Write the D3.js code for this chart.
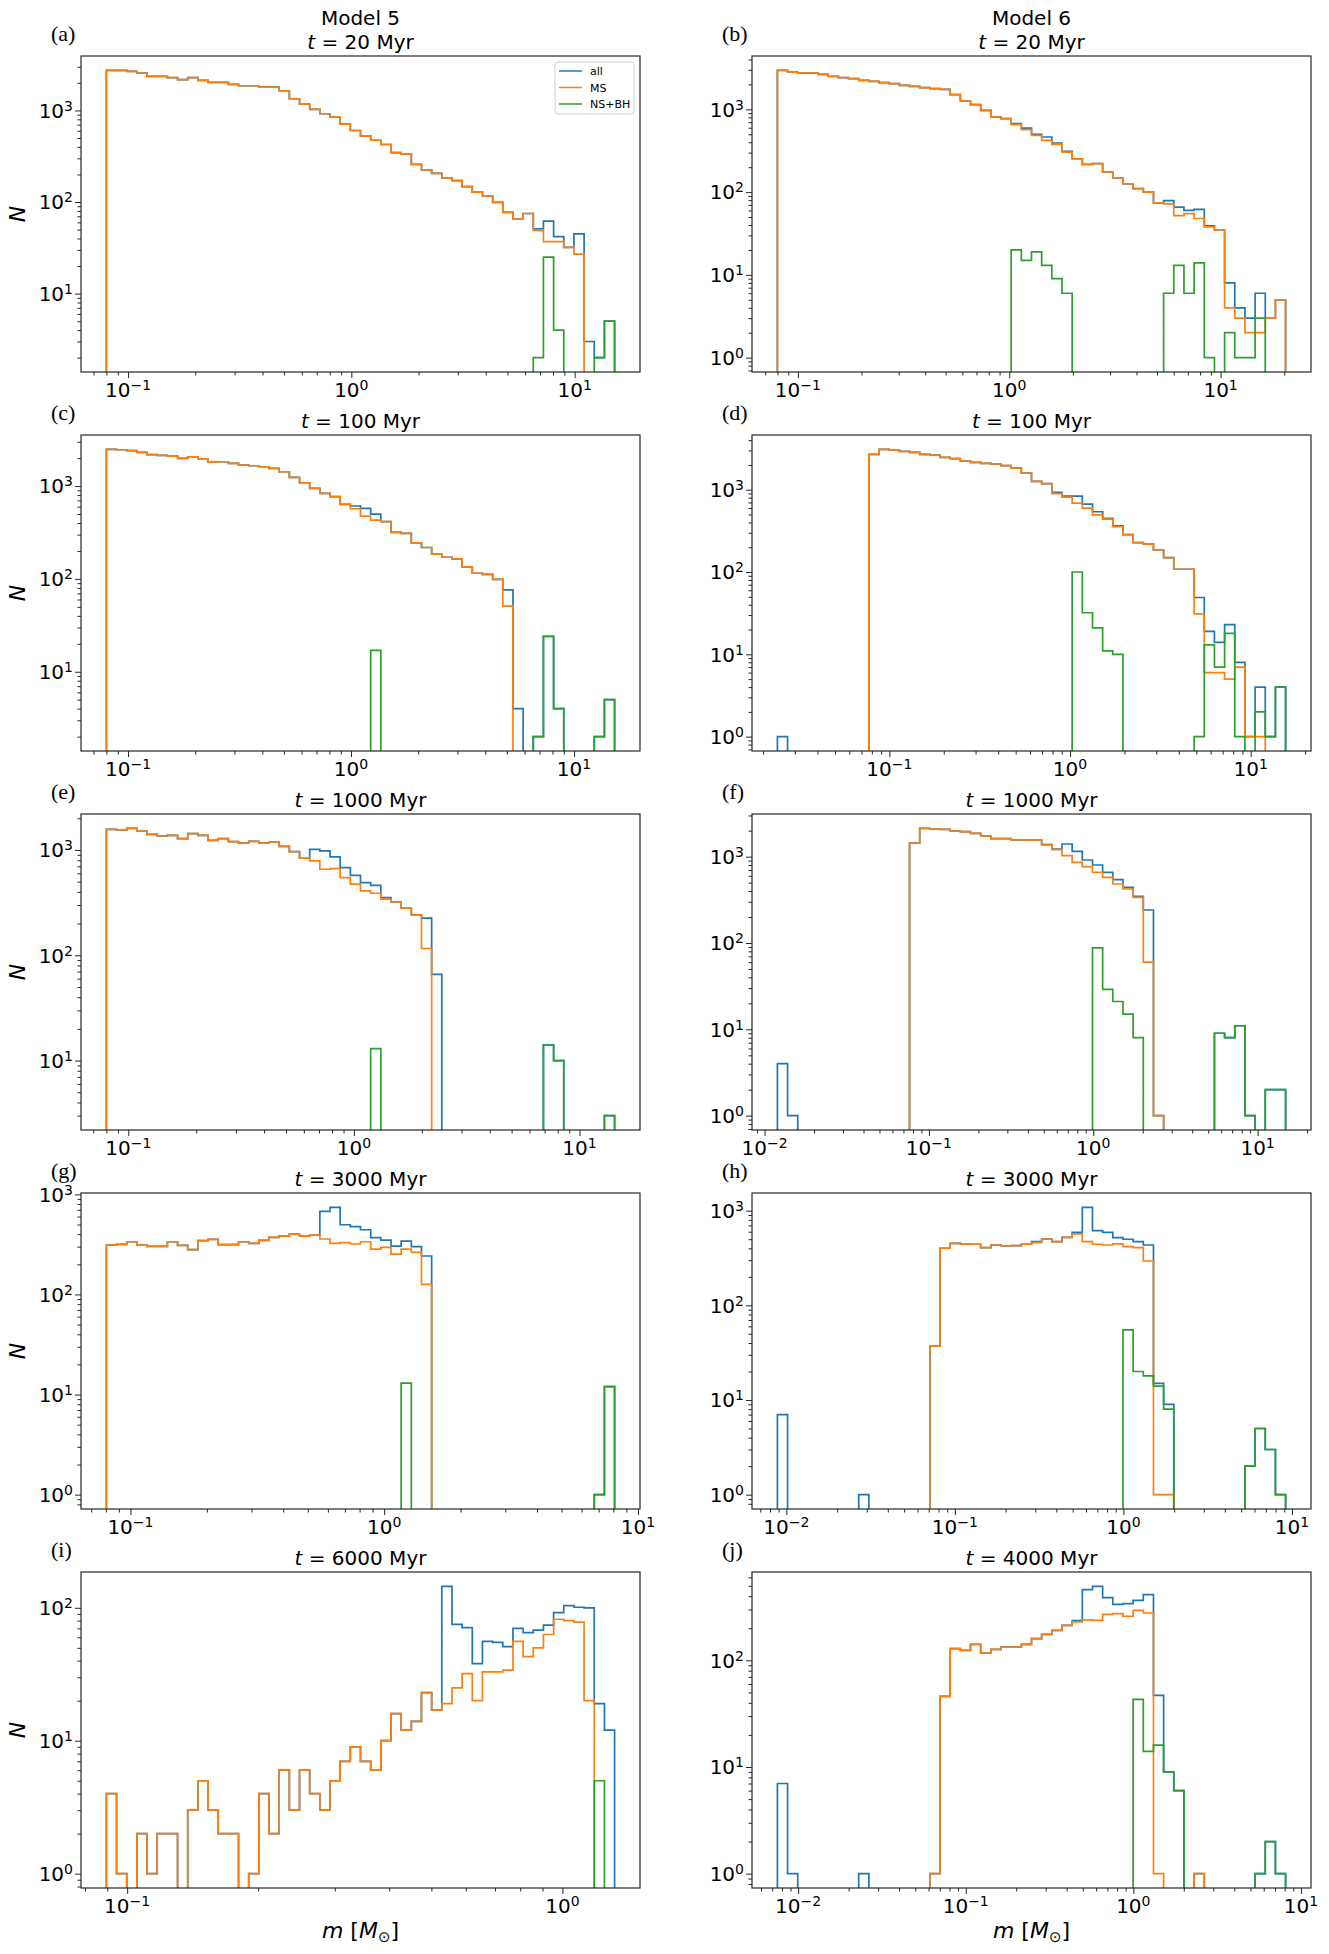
<!DOCTYPE html>
<html>
<head>
<meta charset="utf-8">
<script src="https://cdn.jsdelivr.net/npm/d3@7"></script>
<style>
  body { margin: 0; background: #fff; }
  text { font-family: "DejaVu Sans", sans-serif; fill: #000; }
</style>
</head>
<body>
<svg id="fig" width="1329" height="1954"></svg>
<script>
// counts per log bin (50 bins each)
const a_all = [2740,2740,2673,2564,2357,2357,2279,2166,2279,2130, 2026,2026,1926,1862,1862,1800,1800,1641,1342,1173, 1025,920,845,708,604,528,473,425,347,333, 258,224,206,182,171,147,128,117,99,77, 65,75,51,62,42,32,45,3,2,5];
const a_ms  = [2740,2740,2673,2564,2357,2357,2279,2166,2279,2130, 2026,2026,1926,1862,1862,1800,1800,1641,1342,1173, 1025,920,845,708,604,528,473,425,347,333, 258,224,206,182,171,147,128,117,99,77, 65,75,49,37,37,32,27,0,0,0];
const a_ns  = [0,0,0,0,0,0,0,0,0,0, 0,0,0,0,0,0,0,0,0,0, 0,0,0,0,0,0,0,0,0,0, 0,0,0,0,0,0,0,0,0,0, 0,0,2,25,4,0,0,0,2,5];

const b_all = [2958,2824,2748,2748,2648,2505,2415,2349,2241,2179, 2099,2042,1950,1897,1828,1777,1745,1504,1261,1138, 973,808,771,671,594,499,463,392,311,253, 216,221,175,148,126,110,100,74,79,66, 60,62,39,35,8,4,3,6,3,5];
const b_ms  = [2958,2824,2748,2748,2648,2505,2415,2349,2241,2179, 2099,2042,1950,1897,1828,1777,1745,1504,1261,1138, 973,808,771,653,568,485,422,378,305,253, 216,221,175,148,126,110,100,74,72,52, 55,48,38,35,4,3,2,2,3,5];
const b_ns  = [0,0,0,0,0,0,0,0,0,0, 0,0,0,0,0,0,0,0,0,0, 0,0,0,20,15,19,13,9,6,0, 0,0,0,0,0,0,0,0,6,13, 6,14,1,0,2,1,1,3,0,0];

const c_all = [2485,2460,2403,2306,2177,2140,2105,1987,2070,1969, 1814,1828,1754,1683,1656,1615,1550,1426,1240,1086, 944,834,768,635,610,574,499,413,317,309, 245,218,185,171,164,135,115,112,99,76, 4,0,2,24,4,0,0,0,2,5];
const c_ms  = [2485,2460,2403,2306,2177,2140,2105,1987,2070,1969, 1814,1828,1754,1683,1656,1615,1550,1426,1240,1086, 944,834,768,635,570,475,430,413,317,309, 245,218,185,171,164,135,115,112,99,51, 0,0,0,0,0,0,0,0,0,0];
const c_ns  = [0,0,0,0,0,0,0,0,0,0, 0,0,0,0,0,0,0,0,0,0, 0,0,0,0,0,0,17,0,0,0, 0,0,0,0,0,0,0,0,0,0, 0,0,2,24,4,0,0,0,2,5];

const d_all = [1,0,0,0,0,0,0,0,0,2692, 3092,3035,2924,2843,2692,2642,2473,2384,2233,2150, 2091,2053,1959,1834,1594,1263,1183,929,838,838, 670,540,448,365,284,227,218,186,150,108, 108,49,19,14,23,8,1,4,1,4];
const d_ms  = [0,0,0,0,0,0,0,0,0,2692, 3092,3035,2924,2843,2692,2642,2473,2384,2233,2150, 2091,2053,1959,1834,1594,1263,1183,894,815,689, 598,496,440,357,284,227,218,186,150,108, 108,31,6,6,5,7,1,1,0,0];
const d_ns  = [0,0,0,0,0,0,0,0,0,0, 0,0,0,0,0,0,0,0,0,0, 0,0,0,0,0,0,0,0,0,100, 32,21,11,10,0,0,0,0,0,0, 0,1,13,7,18,1,0,2,1,4];

const e_all = [1570,1549,1604,1514,1407,1358,1377,1280,1429,1377, 1236,1280,1199,1165,1208,1165,1191,1084,964,834, 1015,979,859,681,575,490,462,353,321,280, 242,225,66,0,0,0,0,0,0,0, 0,0,0,14,10,0,0,0,0,3];
const e_ms  = [1570,1549,1604,1514,1407,1358,1377,1280,1429,1377, 1236,1280,1199,1165,1208,1165,1191,1084,964,834, 787,656,665,547,473,408,388,341,321,280, 242,116,0,0,0,0,0,0,0,0, 0,0,0,0,0,0,0,0,0,0];
const e_ns  = [0,0,0,0,0,0,0,0,0,0, 0,0,0,0,0,0,0,0,0,0, 0,0,0,0,0,0,13,0,0,0, 0,0,0,0,0,0,0,0,0,0, 0,0,0,14,10,0,0,0,0,3];

const f_all = [4,1,0,0,0,0,0,0,0,0, 0,0,0,1440,2127,2090,2073,1983,1948,1863, 1735,1615,1615,1559,1559,1559,1377,1227,1402,1153, 915,800,659,542,441,347,241,1,0,0, 0,0,0,9,8,11,1,0,2,2];
const f_ms  = [0,0,0,0,0,0,0,0,0,0, 0,0,0,1440,2127,2090,2073,1983,1948,1863, 1735,1615,1615,1559,1559,1559,1377,1205,1027,860, 766,659,577,482,422,338,60,1,0,0, 0,0,0,0,0,0,0,0,0,0];
const f_ns  = [0,0,0,0,0,0,0,0,0,0, 0,0,0,0,0,0,0,0,0,0, 0,0,0,0,0,0,0,0,0,0, 0,88,29,21,15,8,0,0,0,0, 0,0,0,9,8,11,1,0,2,2];

const g_all = [311,316,336,311,302,302,336,309,280,344, 355,314,314,336,324,347,372,383,401,383, 392,676,741,497,475,443,369,349,304,341, 300,242,0,0,0,0,0,0,0,0, 0,0,0,0,0,0,0,0,1,12];
const g_ms  = [311,316,336,311,302,302,336,309,280,344, 355,314,314,336,324,347,372,383,401,383, 392,358,324,329,319,336,284,295,253,284, 263,126,0,0,0,0,0,0,0,0, 0,0,0,0,0,0,0,0,0,0];
const g_ns  = [0,0,0,0,0,0,0,0,0,0, 0,0,0,0,0,0,0,0,0,0, 0,0,0,0,0,0,0,0,0,13, 0,0,0,0,0,0,0,0,0,0, 0,0,0,0,0,0,0,0,1,12];

const h_all = [7,0,0,0,0,0,0,0,1,0, 0,0,0,0,0,37,401,452,447,442, 407,434,424,427,442,471,502,471,523,590, 1084,615,590,519,499,471,434,15,9,0, 0,0,0,0,0,0,2,5,3,1];
const h_ms  = [0,0,0,0,0,0,0,0,0,0, 0,0,0,0,0,37,401,452,447,442, 407,434,424,427,442,459,502,471,523,568, 471,442,434,447,417,407,294,1,1,0, 0,0,0,0,0,0,0,0,0,0];
const h_ns  = [0,0,0,0,0,0,0,0,0,0, 0,0,0,0,0,0,0,0,0,0, 0,0,0,0,0,0,0,0,0,0, 0,0,0,0,55,20,18,14,8,0, 0,0,0,0,0,0,2,5,3,1];

const i_all = [4,1,0,2,1,2,2,0,3,5, 3,2,2,0,1,4,2,6,3,6, 4,3,5,7,9,7,6,10,16,12, 14,23,17,145,75,71,38,56,55,51, 70,65,68,74,92,104,101,100,19,12];
const i_ms  = [4,1,0,2,1,2,2,0,3,5, 3,2,2,0,1,4,2,6,3,6, 4,3,5,7,9,7,6,10,16,12, 14,23,17,19,25,32,20,33,33,34, 56,43,50,63,82,80,78,20,0,0];
const i_ns  = [0,0,0,0,0,0,0,0,0,0, 0,0,0,0,0,0,0,0,0,0, 0,0,0,0,0,0,0,0,0,0, 0,0,0,0,0,0,0,0,0,0, 0,0,0,0,0,0,0,0,5,0];

const j_all = [7,1,0,0,0,0,0,0,1,0, 0,0,0,0,0,1,46,129,124,141, 117,127,133,133,141,160,175,191,213,236, 460,494,387,335,340,365,413,47,9,6, 0,1,0,0,0,0,0,1,2,1];
const j_ms  = [0,0,0,0,0,0,0,0,0,0, 0,0,0,0,0,1,46,129,124,141, 117,127,133,133,141,160,175,191,213,229, 240,237,270,274,259,294,278,1,0,0, 0,1,0,0,0,0,0,0,0,0];
const j_ns  = [0,0,0,0,0,0,0,0,0,0, 0,0,0,0,0,0,0,0,0,0, 0,0,0,0,0,0,0,0,0,0, 0,0,0,0,0,43,14,16,9,6, 0,0,0,0,0,0,0,1,2,1];

// mass range covered by the bins of each panel, a..j
const mLo = [0.08, 0.08, 0.08, 0.024, 0.08, 0.01197, 0.0804, 0.00885, 0.0896, 0.00752];
const mHi = [15.1, 20.3, 15.2, 15.6, 14.3, 14.8, 8.09, 9.17, 1.318, 8.1];
const letters = ["a","b","c","d","e","f","g","h","i","j"];
const times = ["20","20","100","100","1000","1000","3000","3000","6000","4000"];
const models = ["Model 5", "Model 6"];
const seriesNames = ["all", "MS", "NS+BH"];
const seriesColors = ["#1f77b4", "#ff7f0e", "#2ca02c"];

const counts = [
  [a_all, a_ms, a_ns], [b_all, b_ms, b_ns], [c_all, c_ms, c_ns], [d_all, d_ms, d_ns],
  [e_all, e_ms, e_ns], [f_all, f_ms, f_ns], [g_all, g_ms, g_ns], [h_all, h_ms, h_ns],
  [i_all, i_ms, i_ns], [j_all, j_ms, j_ns]
];

const svg = d3.select("#fig");
const W = 559, H = 316;
const colX = [81, 752];
const rowY = [56, 435, 814, 1193, 1572];
const nBins = 50;
const axisColor = "#262626";
const minus = "\u2212";

svg.append("rect").attr("width", 1329).attr("height", 1954).attr("fill", "#fff");

// "10" with a raised exponent
function powLabel(sel, e) {
  sel.append("tspan").text("10");
  sel.append("tspan").attr("dy", -7).attr("font-size", 14)
    .text(e < 0 ? minus + Math.abs(e) : String(e));
}

function decadeTicks(lo, hi) {
  const major = [], minor = [];
  for (let e = Math.floor(Math.log10(lo)) - 1; e <= Math.ceil(Math.log10(hi)) + 1; e++) {
    const p = Math.pow(10, e);
    if (p >= lo * 0.9999 && p <= hi * 1.0001) major.push(e);
    for (let k = 2; k <= 9; k++) {
      const v = k * p;
      if (v >= lo && v <= hi) minor.push(v);
    }
  }
  return { major, minor };
}

counts.forEach((series, p) => {
  const col = p % 2, row = Math.floor(p / 2);
  const x0 = colX[col], y0 = rowY[row];

  // bin edges, log spaced
  const lLo = Math.log10(mLo[p]), lHi = Math.log10(mHi[p]);
  const edges = d3.range(nBins + 1).map(i => Math.pow(10, lLo + (lHi - lLo) * i / nBins));
  const xPad = 0.05 * (lHi - lLo);
  const x = d3.scaleLog()
    .domain([Math.pow(10, lLo - xPad), Math.pow(10, lHi + xPad)])
    .range([x0, x0 + W]);

  const positive = series.flat().filter(v => v > 0);
  const yLo = Math.log10(d3.min(positive)), yHi = Math.log10(d3.max(positive));
  const yPad = 0.05 * (yHi - yLo);
  const y = d3.scaleLog()
    .domain([Math.pow(10, yLo - yPad), Math.pow(10, yHi + yPad)])
    .range([y0 + H, y0]);

  const clipId = "clip-" + letters[p];
  svg.append("clipPath").attr("id", clipId)
    .append("rect").attr("x", x0).attr("y", y0).attr("width", W).attr("height", H);

  const below = y0 + H + 40;
  const yv = v => (v > 0 ? y(v) : below);
  const line = d3.line().x(d => d[0]).y(d => d[1]);

  const plot = svg.append("g").attr("clip-path", `url(#${clipId})`);
  series.forEach((vals, s) => {
    const pts = [[x(edges[0]), below]];
    vals.forEach((v, i) => {
      pts.push([x(edges[i]), yv(v)]);
      pts.push([x(edges[i + 1]), yv(v)]);
    });
    pts.push([x(edges[nBins]), below]);
    plot.append("path")
      .attr("d", line(pts))
      .attr("fill", "none")
      .attr("stroke", seriesColors[s])
      .attr("stroke-width", 1.7)
      .attr("stroke-linejoin", "miter");
  });

  // axes
  const xt = decadeTicks(x.domain()[0], x.domain()[1]);
  const yt = decadeTicks(y.domain()[0], y.domain()[1]);
  const styleAxis = g => {
    g.select(".domain").remove();
    g.selectAll("line").attr("stroke", axisColor).attr("stroke-width", 1);
  };

  svg.append("g").attr("transform", `translate(0,${y0 + H})`)
    .call(d3.axisBottom(x).tickValues(xt.minor).tickSize(3.5).tickFormat(() => ""))
    .call(styleAxis);
  svg.append("g").attr("transform", `translate(0,${y0 + H})`)
    .call(d3.axisBottom(x).tickValues(xt.major.map(e => Math.pow(10, e))).tickSize(6).tickFormat(() => ""))
    .call(styleAxis);
  svg.append("g").attr("transform", `translate(${x0},0)`)
    .call(d3.axisLeft(y).tickValues(yt.minor).tickSize(3.5).tickFormat(() => ""))
    .call(styleAxis);
  svg.append("g").attr("transform", `translate(${x0},0)`)
    .call(d3.axisLeft(y).tickValues(yt.major.map(e => Math.pow(10, e))).tickSize(6).tickFormat(() => ""))
    .call(styleAxis);

  xt.major.forEach(e => {
    svg.append("text")
      .attr("x", x(Math.pow(10, e))).attr("y", y0 + H + 25)
      .attr("text-anchor", "middle").attr("font-size", 20)
      .call(powLabel, e);
  });
  yt.major.forEach(e => {
    svg.append("text")
      .attr("x", x0 - 8).attr("y", y(Math.pow(10, e)) + 7.3)
      .attr("text-anchor", "end").attr("font-size", 20)
      .call(powLabel, e);
  });

  // frame
  svg.append("rect")
    .attr("x", x0).attr("y", y0).attr("width", W).attr("height", H)
    .attr("fill", "none").attr("stroke", axisColor).attr("stroke-width", 1.2);

  // titles
  const cx = x0 + W / 2;
  const tTitle = svg.append("text").attr("x", cx).attr("y", row === 0 ? 49 : y0 - 7)
    .attr("text-anchor", "middle").attr("font-size", 20);
  tTitle.append("tspan").attr("font-style", "italic").text("t");
  tTitle.append("tspan").text(" = " + times[p] + " Myr");
  if (row === 0) {
    svg.append("text").attr("x", cx).attr("y", 25)
      .attr("text-anchor", "middle").attr("font-size", 20).text(models[col]);
  }

  // panel letter
  svg.append("text").attr("x", x0 - 30).attr("y", y0 - 15)
    .style("font-family", "'Liberation Serif', 'DejaVu Serif', serif")
    .attr("font-size", 22).text("(" + letters[p] + ")");

  // y label on the left column
  if (col === 0) {
    svg.append("text")
      .attr("transform", `translate(25,${y0 + H / 2}) rotate(-90)`)
      .attr("text-anchor", "middle").attr("font-size", 22)
      .attr("font-style", "italic").text("N");
  }

  // x label on the bottom row
  if (row === 4) {
    const xl = svg.append("text").attr("x", cx).attr("y", 1938)
      .attr("text-anchor", "middle").attr("font-size", 22);
    xl.append("tspan").attr("font-style", "italic").text("m");
    xl.append("tspan").text(" [");
    xl.append("tspan").attr("font-style", "italic").text("M");
    xl.append("tspan").attr("dy", 4).attr("font-size", 15).text("\u2299");
    xl.append("tspan").attr("dy", -4).text("]");
  }

  // legend only in panel (a)
  if (p === 0) {
    const lg = svg.append("g");
    lg.append("rect")
      .attr("x", x0 + W - 85).attr("y", y0 + 6).attr("width", 79).attr("height", 52)
      .attr("rx", 3).attr("fill", "#fff").attr("fill-opacity", 0.8)
      .attr("stroke", "#d0d0d0").attr("stroke-width", 1);
    seriesNames.forEach((name, s) => {
      const ly = y0 + 15 + s * 16.5;
      lg.append("line")
        .attr("x1", x0 + W - 81).attr("x2", x0 + W - 58)
        .attr("y1", ly).attr("y2", ly)
        .attr("stroke", seriesColors[s]).attr("stroke-width", 1.5);
      lg.append("text")
        .attr("x", x0 + W - 50).attr("y", ly + 4)
        .attr("font-size", 11).text(name);
    });
  }
});
</script>
</body>
</html>
